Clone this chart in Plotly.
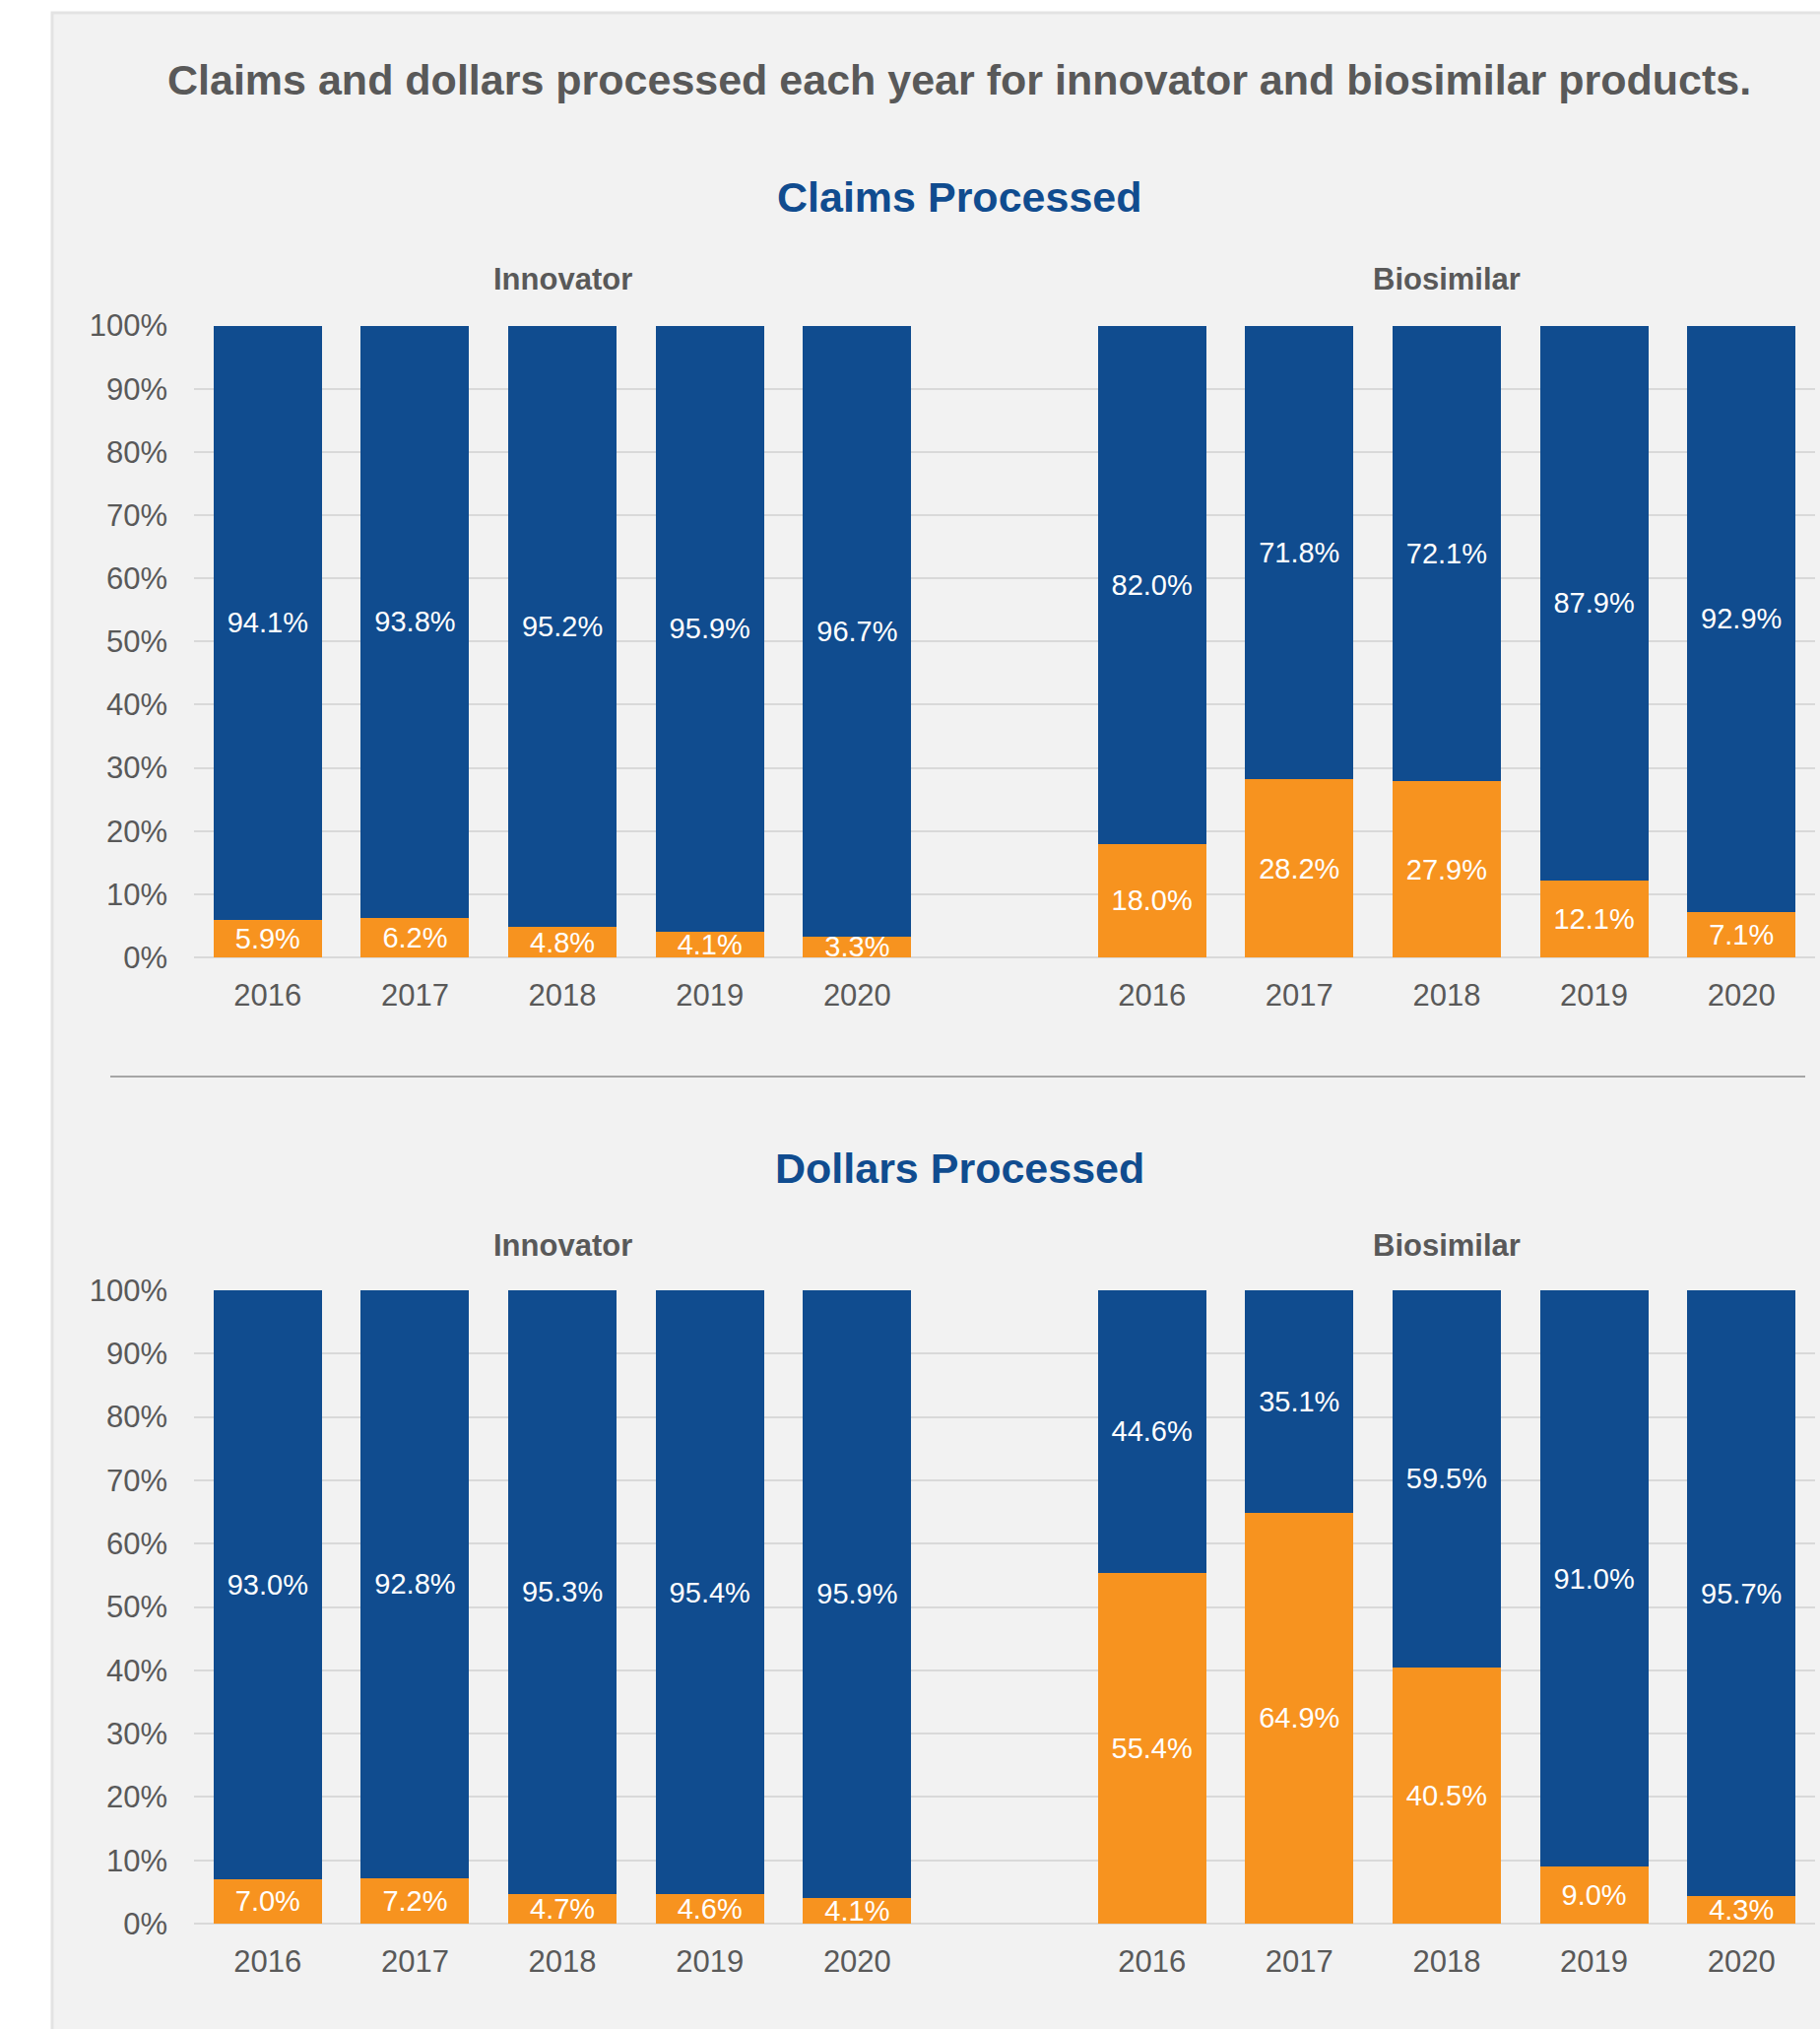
import plotly.graph_objects as go

# ---------------- data ----------------
years = ["2016", "2017", "2018", "2019", "2020"]
groups = ["Innovator", "Biosimilar"]

claims_innovator_orange = [5.9, 6.2, 4.8, 4.1, 3.3]
claims_innovator_blue = [94.1, 93.8, 95.2, 95.9, 96.7]
claims_biosimilar_orange = [18.0, 28.2, 27.9, 12.1, 7.1]
claims_biosimilar_blue = [82.0, 71.8, 72.1, 87.9, 92.9]

dollars_innovator_orange = [7.0, 7.2, 4.7, 4.6, 4.1]
dollars_innovator_blue = [93.0, 92.8, 95.3, 95.4, 95.9]
dollars_biosimilar_orange = [55.4, 64.9, 40.5, 9.0, 4.3]
dollars_biosimilar_blue = [44.6, 35.1, 59.5, 91.0, 95.7]

y_ticks = [0, 10, 20, 30, 40, 50, 60, 70, 80, 90, 100]

main_title = "Claims and dollars processed each year for innovator and biosimilar products."
panel_titles = ["Claims Processed", "Dollars Processed"]

# ---------------- styling ----------------
W, H = 1848, 2060
BLUE = "#104C8F"
ORANGE = "#F7931F"
GRAY_TXT = "#595959"
GRID = "#D9D9D9"
FONT = "Liberation Sans, Arial, sans-serif"

def py(px):
    return 1 - px / H

def px_x(px):
    return px / W

# x positions: innovator slots 0..4, empty slot 5, biosimilar slots 6..10
inn_x = list(range(len(years)))
bio_x = [len(years) + 1 + i for i in range(len(years))]
all_x = inn_x + bio_x
all_ticktext = years + years

fig = go.Figure()

def add_panel(orange_inn, blue_inn, orange_bio, blue_bio, xa, ya):
    orange = orange_inn + orange_bio
    blue = blue_inn + blue_bio
    for vals, color, name in [(orange, ORANGE, "Biosimilar share"), (blue, BLUE, "Innovator share")]:
        fig.add_trace(go.Bar(
            x=all_x, y=vals, xaxis=xa, yaxis=ya,
            marker=dict(color=color, line=dict(width=0)),
            text=[f"{v:.1f}%" for v in vals],
            textposition="inside", insidetextanchor="middle",
            textangle=0, constraintext="none",
            textfont=dict(family=FONT, size=29, color="white"),
            name=name, showlegend=False, hoverinfo="skip",
        ))

add_panel(claims_innovator_orange, claims_innovator_blue,
          claims_biosimilar_orange, claims_biosimilar_blue, "x", "y")
add_panel(dollars_innovator_orange, dollars_innovator_blue,
          dollars_biosimilar_orange, dollars_biosimilar_blue, "x2", "y2")

x_dom = [px_x(197), px_x(1843)]
top_dom = [py(972), py(330.5)]
bot_dom = [py(1953), py(1310)]

xcommon = dict(
    range=[-0.5, 10.5], tickmode="array", tickvals=all_x, ticktext=all_ticktext,
    showgrid=False, zeroline=False, showline=False, ticks="",
    tickfont=dict(family=FONT, size=31, color=GRAY_TXT),
    ticklabelstandoff=17, fixedrange=True, automargin=False,
)
ycommon = dict(
    range=[0, 100], tickmode="array", tickvals=y_ticks,
    ticktext=[f"{v}%" for v in y_ticks],
    showgrid=True, gridcolor=GRID, gridwidth=2,
    zeroline=True, zerolinecolor=GRID, zerolinewidth=2,
    showline=False, ticks="",
    tickfont=dict(family=FONT, size=31, color=GRAY_TXT),
    ticklabelstandoff=26, fixedrange=True, automargin=False,
)

fig.update_layout(
    width=W, height=H,
    margin=dict(l=0, r=0, t=0, b=0, pad=0, autoexpand=False),
    paper_bgcolor="white",
    plot_bgcolor="rgba(0,0,0,0)",
    barmode="stack",
    bargap=0.265,
    xaxis=dict(domain=x_dom, anchor="y", **xcommon),
    yaxis=dict(domain=top_dom, anchor="x", **ycommon),
    xaxis2=dict(domain=x_dom, anchor="y2", **xcommon),
    yaxis2=dict(domain=bot_dom, anchor="x2", **ycommon),
    showlegend=False,
)

shapes = [
    # light gray panel
    dict(type="rect", xref="paper", yref="paper", layer="below",
         x0=px_x(53), x1=1.1, y0=-0.1, y1=py(13),
         fillcolor="#F2F2F2", line=dict(color="#E3E3E3", width=3)),
    # separator line
    dict(type="line", xref="paper", yref="paper", layer="below",
         x0=px_x(112), x1=px_x(1833), y0=py(1093), y1=py(1093),
         line=dict(color="#A6A6A6", width=2)),
]
fig.update_layout(shapes=shapes)

annotations = [
    dict(text=f"<b>{main_title}</b>", x=px_x(974), y=py(81), xref="paper", yref="paper",
         xanchor="center", yanchor="middle", showarrow=False,
         font=dict(family=FONT, size=43, color=GRAY_TXT)),
    dict(text=f"<b>{panel_titles[0]}</b>", x=px_x(974), y=py(200), xref="paper", yref="paper",
         xanchor="center", yanchor="middle", showarrow=False,
         font=dict(family=FONT, size=43, color=BLUE)),
    dict(text=f"<b>{panel_titles[1]}</b>", x=px_x(974), y=py(1186), xref="paper", yref="paper",
         xanchor="center", yanchor="middle", showarrow=False,
         font=dict(family=FONT, size=43, color=BLUE)),
]
for xa, ypx in [("x", 283), ("x2", 1264)]:
    for gname, xs in zip(groups, [inn_x, bio_x]):
        annotations.append(dict(
            text=f"<b>{gname}</b>", x=xs[len(xs) // 2], y=py(ypx), xref=xa, yref="paper",
            xanchor="center", yanchor="middle", showarrow=False,
            font=dict(family=FONT, size=31, color=GRAY_TXT)))
fig.update_layout(annotations=annotations)

# remove the default page margin so the figure fills the window exactly
page_fix = (
    "document.documentElement.style.margin='0';"
    "document.body.style.margin='0';"
    "document.body.style.overflow='hidden';"
)

fig.write_html("out.html", config={"displayModeBar": False}, post_script=page_fix)
